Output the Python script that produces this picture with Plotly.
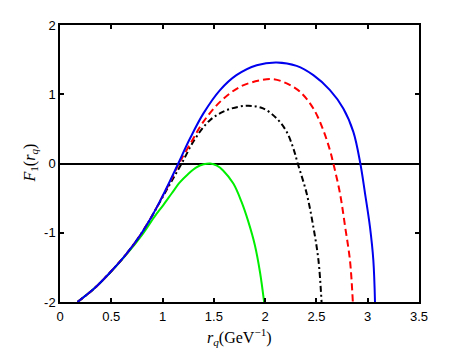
import plotly.graph_objects as go

# Blue solid curve
blue_x = [0.17, 0.33, 0.49, 0.65, 0.78, 0.90, 0.99, 1.07, 1.153, 1.267, 1.397, 1.56, 1.72, 1.918,
          2.113, 2.307, 2.47, 2.632, 2.762, 2.86, 2.928, 2.974, 3.022, 3.055, 3.071]
blue_y = [-2.0, -1.81, -1.57, -1.30, -1.04, -0.75, -0.50, -0.26, 0.0, 0.36, 0.72, 1.06, 1.276, 1.42,
          1.46, 1.41, 1.276, 1.06, 0.795, 0.457, 0.0, -0.434, -0.916, -1.40, -2.0]

# Red dashed curve
red_x = [0.17, 0.33, 0.49, 0.65, 0.78, 0.90, 0.99, 1.075, 1.16, 1.28, 1.397, 1.56, 1.755, 1.95,
         2.08, 2.21, 2.34, 2.47, 2.567, 2.632, 2.665, 2.73, 2.78, 2.827, 2.855]
red_y = [-2.0, -1.81, -1.57, -1.30, -1.04, -0.75, -0.50, -0.26, 0.0, 0.31, 0.60, 0.89, 1.107, 1.20,
         1.218, 1.156, 1.035, 0.795, 0.48, 0.19, 0.0, -0.434, -0.916, -1.40, -2.0]

# Black dash-dot curve
black_x = [0.17, 0.33, 0.49, 0.65, 0.78, 0.90, 0.995, 1.09, 1.186, 1.31, 1.462, 1.625, 1.82,
           1.98, 2.113, 2.21, 2.275, 2.318, 2.405, 2.47, 2.52, 2.55]
black_y = [-2.0, -1.81, -1.57, -1.30, -1.04, -0.75, -0.50, -0.25, 0.0, 0.34, 0.626, 0.77, 0.833,
           0.795, 0.65, 0.457, 0.217, 0.0, -0.434, -0.916, -1.40, -2.0]

# Green solid curve
green_x = [0.17, 0.33, 0.49, 0.65, 0.80, 0.92, 1.007, 1.09, 1.17, 1.25, 1.33, 1.40, 1.465, 1.53,
           1.59, 1.69, 1.77, 1.836, 1.90, 1.95, 1.99]
green_y = [-2.0, -1.81, -1.575, -1.31, -1.03, -0.77, -0.60, -0.43, -0.27, -0.15, -0.055, -0.012, 0.0, -0.03,
           -0.10, -0.29, -0.555, -0.84, -1.18, -1.57, -2.0]

x_ticks = [0, 0.5, 1, 1.5, 2, 2.5, 3, 3.5]
x_labels = ["0", "0.5", "1", "1.5", "2", "2.5", "3", "3.5"]
y_ticks = [-2, -1, 0, 1, 2]
y_labels = ["-2", "-1", "0", "1", "2"]

x_title = "<i>r</i><sub><i>q</i></sub>(GeV<sup>\u22121</sup>)"
y_title = "<i>F</i><sub>1</sub>(<i>r</i><sub><i>q</i></sub>)"

fig = go.Figure()
common = dict(mode="lines", line_shape="spline", showlegend=False, hoverinfo="skip")
fig.add_trace(go.Scatter(x=green_x, y=green_y, line=dict(color="#00ee00", width=2), **common))
fig.add_trace(go.Scatter(x=black_x, y=black_y, line=dict(color="black", width=2, dash="6px,3px,2px,3px"), **common))
fig.add_trace(go.Scatter(x=red_x, y=red_y, line=dict(color="#ff0000", width=2, dash="7px,4px"), **common))
fig.add_trace(go.Scatter(x=blue_x, y=blue_y, line=dict(color="#0000ee", width=2), **common))

axis_common = dict(showgrid=False, showline=True, linecolor="black", linewidth=1.5, mirror="ticks",
                   ticks="inside", ticklen=4, tickwidth=1.5, tickcolor="black", automargin=False,
                   tickfont=dict(family="Liberation Sans, Arial, sans-serif", size=13, color="black"))

fig.update_xaxes(range=[0, 3.5], tickvals=x_ticks, ticktext=x_labels, zeroline=False,
                 ticklabelstandoff=2, **axis_common)
fig.update_yaxes(range=[-2, 2], tickvals=y_ticks, ticktext=y_labels, zeroline=True,
                 zerolinecolor="black", zerolinewidth=1.5, **axis_common)

title_font = dict(family="Liberation Serif, DejaVu Serif, serif", size=16, color="black")
fig.add_annotation(text=x_title, xref="paper", yref="paper", x=0.5, y=0, xanchor="center",
                   yanchor="middle", yshift=-35, showarrow=False, font=title_font)
fig.add_annotation(text=y_title, xref="paper", yref="paper", x=0, y=0.5, xanchor="center",
                   yanchor="middle", xshift=-30, textangle=-90, showarrow=False, font=title_font)

fig.update_layout(width=463, height=348, margin=dict(l=60, r=44, t=25, b=46),
                  plot_bgcolor="white", paper_bgcolor="white")

fig.write_html("out.html", config={"displayModeBar": False},
               post_script="document.body.style.margin='0';")
